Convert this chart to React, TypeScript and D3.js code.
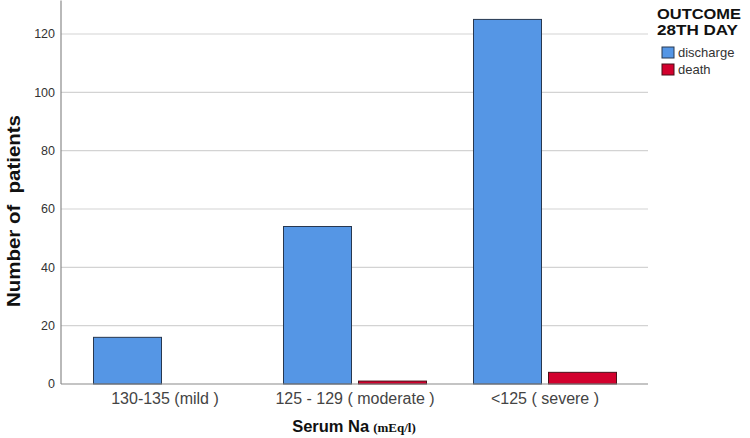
import React from "react";
import * as d3 from "d3";

const categories = ["130-135 (mild )", "125 - 129 ( moderate )", "<125 ( severe )"];
const seriesNames = ["discharge", "death"];
const dischargeValues = [16, 54, 125];
const deathValues = [0, 1, 4];
const yTicks = [0, 20, 40, 60, 80, 100, 120];
const colors = ["#5596e5", "#d2002d"];

const W = 750;
const H = 438;
const font = "'Liberation Sans', Arial, sans-serif";

export default function App() {
  const x0 = d3.scaleBand<string>().domain(categories).range([70, 640]).paddingInner(0).paddingOuter(0);
  const x1 = d3
    .scaleBand<string>()
    .domain(seriesNames)
    .range([0, x0.bandwidth()])
    .paddingInner(7 / 75)
    .paddingOuter(0.3133);
  const y = d3.scaleLinear().domain([0, 120]).range([384, 34]);
  const plotLeft = 61;
  const plotRight = 648;
  const series = [dischargeValues, deathValues];

  return (
    <div style={{ position: "absolute", left: 0, top: 0 }}>
      <svg width={W} height={H} style={{ display: "block", background: "#fff" }}>
        {/* gridlines */}
        {yTicks.filter((t) => t > 0).map((t) => (
          <line key={t} x1={plotLeft} x2={plotRight} y1={y(t)} y2={y(t)} stroke="#d3d3d3" strokeWidth={1.2} />
        ))}
        {/* bars */}
        {categories.map((c, i) => (
          <g key={c} transform={`translate(${x0(c)},0)`}>
            {seriesNames.map((s, j) => {
              const v = series[j][i];
              if (v <= 0) return null;
              return (
                <rect
                  key={s}
                  x={x1(s)}
                  y={y(v)}
                  width={x1.bandwidth()}
                  height={y(0) - y(v)}
                  fill={colors[j]}
                  stroke={j === 0 ? "#283850" : "#4a0f18"}
                  strokeWidth={1}
                />
              );
            })}
          </g>
        ))}
        {/* axes */}
        <line x1={plotLeft} x2={plotLeft} y1={y(131.5)} y2={y(0)} stroke="#8a8a8a" strokeWidth={1.2} />
        <line x1={plotLeft} x2={plotRight} y1={y(0)} y2={y(0)} stroke="#8a8a8a" strokeWidth={1.2} />
        {yTicks.map((t) => (
          <text key={t} x={55} y={y(t)} dy="0.35em" textAnchor="end" fontFamily={font} fontSize={12.5} fill="#333">
            {t}
          </text>
        ))}
        {categories.map((c) => (
          <text
            key={c}
            x={(x0(c) as number) + x0.bandwidth() / 2}
            y={404}
            textAnchor="middle"
            fontFamily={font}
            fontSize={16}
            fill="#444"
          >
            {c}
          </text>
        ))}
        {/* axis titles */}
        <text x={354} y={432} textAnchor="middle" fill="#111">
          <tspan fontFamily={font} fontWeight="bold" fontSize={16.5}>Serum Na</tspan>
          <tspan fontFamily="'Liberation Serif', 'Times New Roman', serif" fontWeight="bold" fontSize={13} dx={4}>
            (mEq/l)
          </tspan>
        </text>
        <text
          transform={`translate(20,211) rotate(-90)`}
          textAnchor="middle"
          fontFamily={font}
          fontWeight="bold"
          fontSize={18.5}
          fill="#111"
          textLength={192}
          lengthAdjust="spacingAndGlyphs"
          style={{ whiteSpace: "pre" }}
        >
          {"Number of  patients"}
        </text>
        {/* legend */}
        <text x={657} y={19} fontFamily={font} fontWeight="bold" fontSize={14} fill="#111" textLength={84} lengthAdjust="spacingAndGlyphs">
          OUTCOME
        </text>
        <text x={657} y={35} fontFamily={font} fontWeight="bold" fontSize={14} fill="#111" textLength={81} lengthAdjust="spacingAndGlyphs">
          28TH DAY
        </text>
        {seriesNames.map((s, j) => (
          <g key={s} transform={`translate(662,${47 + j * 17})`}>
            <rect x={0} y={0} width={12} height={11} fill={colors[j]} stroke={j === 0 ? "#283850" : "#4a0f18"} strokeWidth={1} />
            <text x={16} y={10} fontFamily={font} fontSize={13} fill="#333">
              {s}
            </text>
          </g>
        ))}
      </svg>
    </div>
  );
}
